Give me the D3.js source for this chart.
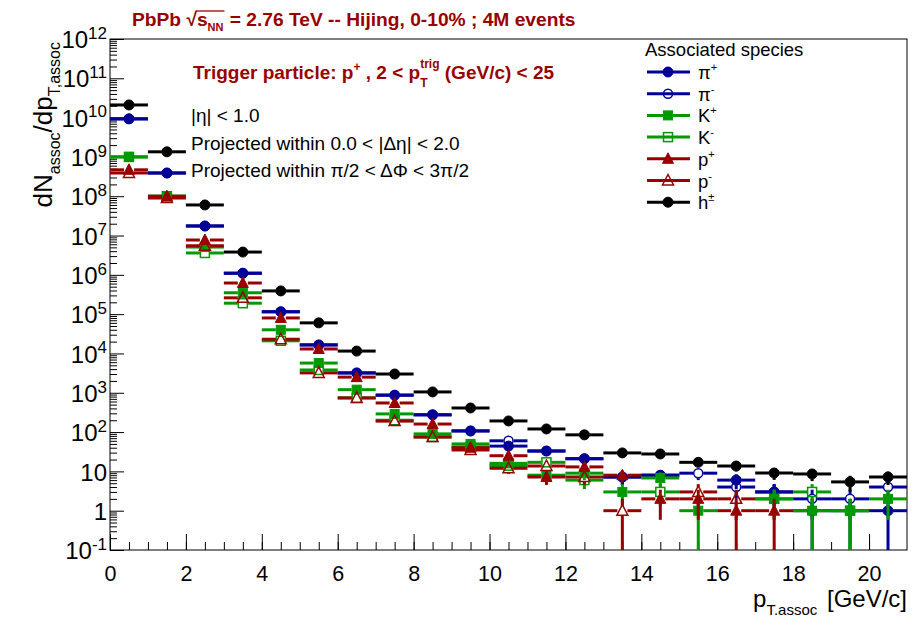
<!DOCTYPE html>
<html>
<head>
<meta charset="utf-8">
<script src="https://cdn.jsdelivr.net/npm/d3@7"></script>
<style>
  body { margin: 0; background: #fff; }
  svg { font-family: "Liberation Sans", Arial, Helvetica, sans-serif; }
  text { white-space: pre; }
</style>
</head>
<body>
<script>
// bin centres, 1 GeV/c wide bins
var pt = [0.5, 1.5, 2.5, 3.5, 4.5, 5.5, 6.5, 7.5, 8.5, 9.5, 10.5, 11.5, 12.5, 13.5, 14.5, 15.5, 16.5, 17.5, 18.5, 19.5, 20.5]

// yields (null = empty bin)
var piPlus  = [9.3e9, 3.9e8, 1.75e7, 1.1e6, 1.15e5, 1.65e4, 3.2e3, 870, 275, 107, 44, 33, 21, 7.2, 8, null, 6, 3, 1, 1, 1]
var piMinus = [9.3e9, 3.9e8, 1.75e7, 1.1e6, 1.15e5, 1.65e4, 3.2e3, 870, 275, 107, 60, 33, 21, 7.2, 8, 9, 4, 3, 2, 2, 4]
var kPlus   = [1.0e9, 1.0e8, 5.1e6, 3.5e5, 4.0e4, 5.7e3, 1.2e3, 290, 90, 50, 16, 8, 9, 3, 6.8, 1, null, 2, 1, 1, 2]
var kMinus  = [1.0e9, 1.0e8, 3.6e6, 1.9e5, 2.1e4, 3.8e3, 740, 200, 75, 42, 14, 17, 6, null, 3, null, null, 2, 3, 1, null]
var pPlus   = [4.7e8, 1.0e8, 7.7e6, 6.2e5, 8.0e4, 1.3e4, 2.5e3, 550, 160, 40, 25, 7.2, 13, 8, 2, 2, 1, 1, null, null, null]
var pMinus  = [3.9e8, 9.0e7, 5.5e6, 2.6e5, 2.3e4, 3.2e3, 740, 190, 75, 35, 12, 13.7, 7.2, 1, null, 3, 2, null, null, null, null]
var hAll    = [2.1e10, 1.35e9, 6.0e7, 3.8e6, 3.9e5, 6.0e4, 1.15e4, 3.0e3, 1.05e3, 410, 192, 120, 85, 29.5, 27.7, 17, 13.7, 9.1, 8.6, 5.4, 7.2]

var xTicks = [0, 2, 4, 6, 8, 10, 12, 14, 16, 18, 20]
var yTicks = [1e-1, 1, 10, 1e2, 1e3, 1e4, 1e5, 1e6, 1e7, 1e8, 1e9, 1e10, 1e11, 1e12]

var blue = "#000099", green = "#009900", red = "#990000"

var series = [
	{sup: "+", base: "\u03c0", vals: piPlus,  color: blue,  shape: "circle",   open: false},
	{sup: "-", base: "\u03c0", vals: piMinus, color: blue,  shape: "circle",   open: true},
	{sup: "+", base: "K",      vals: kPlus,   color: green, shape: "square",   open: false},
	{sup: "-", base: "K",      vals: kMinus,  color: green, shape: "square",   open: true},
	{sup: "+", base: "p",      vals: pPlus,   color: red,   shape: "triangle", open: false},
	{sup: "-", base: "p",      vals: pMinus,  color: red,   shape: "triangle", open: true},
	{sup: "\u00b1", base: "h", vals: hAll,    color: "#000", shape: "circle", open: false}
]

var W = 924, H = 619
var L = 110, R = 907, T = 39, B = 550

var svg = d3.select("body").append("svg").attr("width", W).attr("height", H)

var x = d3.scaleLinear().domain([0, 21]).range([L, R])
var y = d3.scaleLog().domain([1e-1, 1e12]).range([B, T])

// text made of pieces (sub/superscripts), laid out left to right
function rich(parent, parts, base) {
	var g = parent.append("g")
	var cx = 0
	g.xs = []
	parts.forEach(function(p) {
		var items = p.stack || [p]
		var adv = 0
		g.xs.push(cx)
		items.forEach(function(q) {
			var t = g.append("text").attr("x", cx).attr("y", q.dy || 0)
				.attr("font-size", q.s || base.s)
				.attr("font-weight", base.w || "normal")
				.attr("fill", base.c || "#000")
				.text(q.t)
			adv = Math.max(adv, t.node().getComputedTextLength())
		})
		cx += adv + (p.gap || 0)
	})
	g.xs.push(cx)
	g.width = cx
	return g
}

// ---- axes
var xAxis = svg.append("g").attr("transform", "translate(0," + B + ")")
	.call(d3.axisBottom(x).tickValues(xTicks).tickSize(-16).tickPadding(16).tickFormat(d3.format("d")))
var xMinor = svg.append("g").attr("transform", "translate(0," + B + ")")
	.call(d3.axisBottom(x).tickValues(d3.range(0.5, 21, 0.5)).tickSize(-8).tickFormat(""))

var minorY = []
yTicks.slice(0, -1).forEach(function(d) { for (var k = 2; k < 10; k++) minorY.push(d * k) })
var yMinor = svg.append("g").attr("transform", "translate(" + L + ",0)")
	.call(d3.axisLeft(y).tickValues(minorY).tickSize(-7).tickFormat(""))
var yAxis = svg.append("g").attr("transform", "translate(" + L + ",0)")
	.call(d3.axisLeft(y).tickValues(yTicks).tickSize(-14).tickPadding(3).tickFormat(""))

svg.selectAll(".domain").remove()
svg.selectAll(".tick line").attr("stroke", "#000")
xAxis.selectAll("text").attr("font-size", 21.5).attr("fill", "#000").attr("font-family", null)

yAxis.selectAll(".tick").each(function(d) {
	var n = Math.round(Math.log10(d))
	var t = d3.select(this).select("text").attr("font-size", 24).attr("fill", "#000")
		.attr("font-family", null).attr("dy", "0.36em")
	if (n === 0 || n === 1) { t.text(n === 0 ? "1" : "10"); return }
	t.append("tspan").text("10")
	t.append("tspan").attr("font-size", 17).attr("dy", "-0.55em").text(String(n))
})

// ---- frame
svg.append("rect").attr("x", L).attr("y", T).attr("width", R - L).attr("height", B - T)
	.attr("fill", "none").attr("stroke", "#000").attr("stroke-width", 1)

// ---- data
svg.append("clipPath").attr("id", "plotclip").append("rect")
	.attr("x", L).attr("y", T).attr("width", R - L).attr("height", B - T)
var plot = svg.append("g").attr("clip-path", "url(#plotclip)")

var mr = 5
function marker(g, s, cx, cy) {
	var fill = s.open ? "none" : s.color
	var sw = s.open ? 1.5 : 1
	if (s.shape === "circle") {
		g.append("circle").attr("cx", cx).attr("cy", cy).attr("r", s.open ? 4.5 : 5)
			.attr("fill", fill).attr("stroke", s.color).attr("stroke-width", sw)
	} else if (s.shape === "square") {
		g.append("rect").attr("x", cx - 4.5).attr("y", cy - 4.5).attr("width", 9).attr("height", 9)
			.attr("fill", fill).attr("stroke", s.color).attr("stroke-width", sw)
	} else {
		g.append("path").attr("d", "M" + cx + "," + (cy - 6) + "L" + (cx + 5.5) + "," + (cy + 4.5) + "L" + (cx - 5.5) + "," + (cy + 4.5) + "Z")
			.attr("fill", fill).attr("stroke", s.color).attr("stroke-width", sw)
	}
}

series.forEach(function(s) {
	var g = plot.append("g")
	s.vals.forEach(function(v, i) {
		if (v === null) return
		var cx = x(pt[i]), cy = y(v)
		var x0 = x(pt[i] - 0.5), x1 = x(pt[i] + 0.5)
		var err = Math.sqrt(v)
		var yHi = y(v + err)
		var yLo = v - err > 1e-1 ? y(v - err) : B + 5
		var segs = [[x0, cy, cx - mr, cy], [cx + mr, cy, x1, cy]]
		if (yHi < cy - mr) segs.push([cx, cy - mr, cx, yHi])
		if (yLo > cy + mr) segs.push([cx, cy + mr, cx, yLo])
		segs.forEach(function(l) {
			g.append("line").attr("x1", l[0]).attr("y1", l[1]).attr("x2", l[2]).attr("y2", l[3])
				.attr("stroke", s.color).attr("stroke-width", 3)
		})
		marker(g, s, cx, cy)
	})
})

// ---- legend
svg.append("text").attr("x", 645).attr("y", 56).attr("font-size", 18.5).text("Associated species")
series.forEach(function(s, i) {
	var yy = 72 + i * 21.7
	var g = svg.append("g")
	g.append("line").attr("x1", 647).attr("x2", 690).attr("y1", yy).attr("y2", yy)
		.attr("stroke", s.color).attr("stroke-width", 3)
	marker(g, s, 668, yy)
	var lab = rich(svg, [{t: s.base}, {t: s.sup, s: 11, dy: -8}], {s: 18.5})
	lab.attr("transform", "translate(698," + (yy + 7) + ")")
})

// ---- texts
var title = rich(svg, [
	{t: "PbPb "}, {t: "\u221a", gap: 0}, {t: "s"}, {t: "NN", s: 11, dy: 5, gap: 1},
	{t: " = 2.76 TeV -- Hijing, 0-10% ; 4M events"}
], {s: 19.2, w: "bold", c: red})
title.attr("transform", "translate(132,26)")
title.append("line").attr("x1", title.xs[2] - 1).attr("x2", title.xs[4]).attr("y1", -15).attr("y2", -15)
	.attr("stroke", red).attr("stroke-width", 1.3)

var trig = rich(svg, [
	{t: "Trigger particle: p"}, {t: "+", s: 12, dy: -8}, {t: " , 2 < p"},
	{stack: [{t: "T", s: 12, dy: 8}, {t: "trig", s: 12, dy: -11}]},
	{t: " (GeV/c) < 25"}
], {s: 19, w: "bold", c: red})
trig.attr("transform", "translate(193,79)")

var notes = ["|\u03b7| < 1.0", "Projected within 0.0 < |\u0394\u03b7| < 2.0", "Projected within \u03c0/2 < \u0394\u03a6 < 3\u03c0/2"]
notes.forEach(function(t, i) {
	svg.append("text").attr("x", 191).attr("y", 122 + i * 27.5).attr("font-size", 19).text(t)
})

// axis titles
var xt = rich(svg, [{t: "p", s: 24}, {t: "T.assoc", s: 15, dy: 8, gap: 3}, {t: " [GeV/c]", s: 24}], {s: 24})
xt.attr("transform", "translate(" + (R - xt.width) + ",607)")

var yt = rich(svg, [
	{t: "dN", s: 26}, {t: "assoc", s: 16, dy: 8}, {t: "/dp", s: 26}, {t: "T,assoc", s: 16, dy: 8}
], {s: 26})
yt.attr("transform", "translate(52,42) rotate(-90) translate(" + (-yt.width) + ",0)")
</script>
</body>
</html>
